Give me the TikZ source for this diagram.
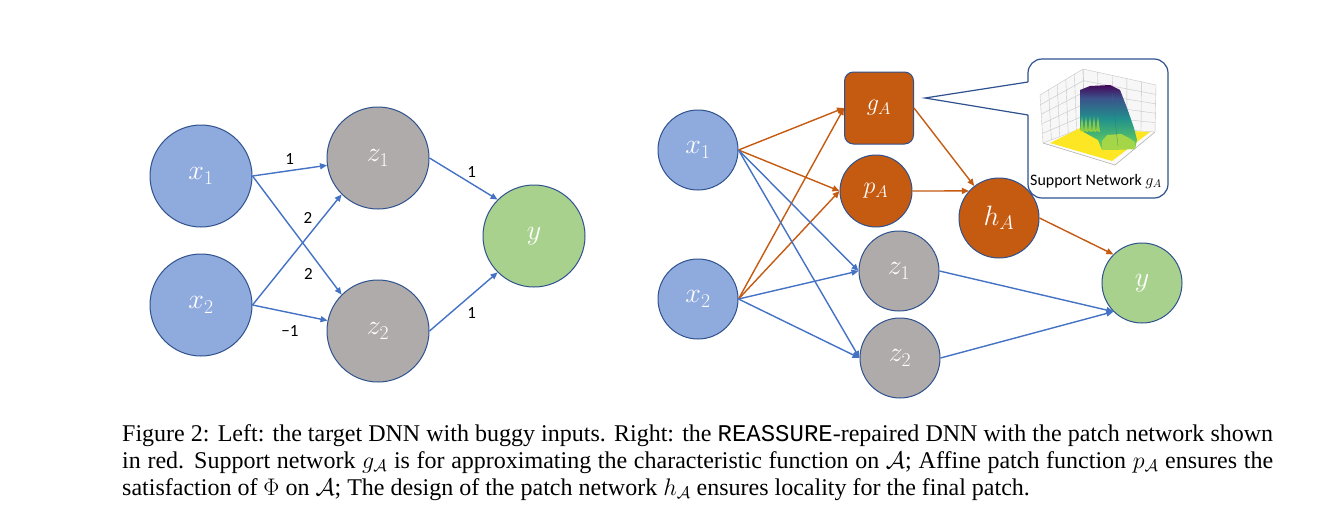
\RequirePackage{fix-cm}
\documentclass[tikz,border=0pt]{standalone}
\usepackage{fontspec}
\setmainfont{Liberation Serif}
\setmonofont{Liberation Mono}
\newfontfamily\calibri{Carlito}
\usetikzlibrary{calc,arrows.meta}

\definecolor{inblue}{HTML}{8FAADC}
\definecolor{hidgrey}{HTML}{AFABAB}
\definecolor{outgreen}{HTML}{A9D18E}
\definecolor{patchred}{HTML}{C55A11}
\definecolor{rimblue}{HTML}{2F528F}
\definecolor{wireblue}{HTML}{4472C4}
\definecolor{vira}{HTML}{440154}
\definecolor{virb}{HTML}{3B528B}
\definecolor{virc}{HTML}{21918C}
\definecolor{vird}{HTML}{5EC962}
\definecolor{vire}{HTML}{FDE725}
\definecolor{virlime}{HTML}{B5DE2B}
\pgfdeclareverticalshading{viridisfade}{100bp}{color(0bp)=(virlime); color(8bp)=(virlime); color(30bp)=(vird); color(49bp)=(virc); color(65bp)=(virb); color(76bp)=(vira); color(100bp)=(vira)}

\begin{document}
\begin{tikzpicture}[x=1pt,y=-1pt]
\tikzset{neuron/.style={circle,draw=rimblue,line width=1pt,text=white,inner sep=0pt,font=\fontsize{28}{30}\selectfont},
  bigneuron/.style={neuron,minimum size=102pt},
  smallneuron/.style={neuron,minimum size=80pt},
  wire/.style={wireblue,line width=1.4pt,-{Triangle[length=7pt,width=6pt]}},
  patchwire/.style={wire,patchred},
  weight/.style={text=black,font=\calibri\fontsize{17}{18}\selectfont,inner sep=2pt},
  callout/.style={rimblue,line width=1.2pt},
  pane/.style={gray!45,line width=0.4pt}};

\pgfmathsetmacro{\captionwd}{1151};

\fill[white] (0,0) rectangle (1329,528);
\useasboundingbox (0,0) rectangle (1329,528);

% left: the target DNN
\node[bigneuron,fill=inblue] (lx1) at (201,176) {$x_1$};
\node[bigneuron,fill=inblue] (lx2) at (201,305) {$x_2$};
\node[bigneuron,fill=hidgrey] (lz1) at (378,158) {$z_1$};
\node[bigneuron,fill=hidgrey] (lz2) at (378,331) {$z_2$};
\node[bigneuron,fill=outgreen] (ly) at (534,236) {$y$};

\draw[wire] (lx1.east) -- (lz1) node[weight,midway,above=3pt] (w11) {1};
\draw[wire] (lx1.east) -- (lz2.135) node[weight,pos=0.83,left=11pt] (w12) {2};
\draw[wire] (lx2.east) -- (lz1.225) node[weight,pos=0.79,left=8pt] (w21) {2};
\draw[wire] (lx2.east) -- (lz2) node[weight,midway,below=10pt] (w22) {−1};
\draw[wire] (lz1.east) -- (ly.135) node[weight,pos=0.62,above=4pt] (wz1) {1};
\draw[wire] (lz2.east) -- (ly.225) node[weight,pos=0.62,below=10pt] (wz2) {1};

% right: the repaired DNN
\node[smallneuron,fill=inblue] (rx1) at (698,150) {$x_1$};
\node[smallneuron,fill=inblue] (rx2) at (698,299) {$x_2$};
\node[rectangle,rounded corners=9pt,draw=rimblue,line width=1pt,fill=patchred,text=white,
  minimum width=69pt,minimum height=72pt,font=\fontsize{24}{26}\selectfont] (gA) at (879,108) {$g_A$};
\node[neuron,fill=patchred,minimum size=72pt,font=\fontsize{24}{26}\selectfont] (pA) at (876,191) {$p_A$};
\node[smallneuron,fill=patchred] (hA) at (999,218) {$h_A$};
\node[smallneuron,fill=hidgrey] (rz1) at (899,271) {$z_1$};
\node[smallneuron,fill=hidgrey] (rz2) at (900,358) {$z_2$};
\node[smallneuron,fill=outgreen] (ry) at (1142,283) {$y$};

\draw[patchwire] (rx1.east) -- (gA.west);
\draw[patchwire] (rx2.east) -- (gA.west);
\draw[patchwire] (rx1.east) -- (pA.west);
\draw[patchwire] (rx2.east) -- (pA.west);
\draw[wire] (rx1.east) -- (rz1.west);
\draw[wire] (rx1.east) -- (rz2.west);
\draw[wire] (rx2.east) -- (rz1.west);
\draw[wire] (rx2.east) -- (rz2.west);
\draw[patchwire] (gA.east) -- (hA);
\draw[patchwire] (pA.east) -- (hA.138);
\draw[patchwire] (hA.east) -- (ry.135);
\draw[wire] (rz1.east) -- (ry.225);
\draw[wire] (rz2.east) -- (ry.225);

% callout with the support network plot
\draw[callout,fill=white,rounded corners=14pt] (1028,59) rectangle (1168,198);
\fill[white] (1029.5,82) -- (925,98) -- (1029.5,115) -- cycle;
\draw[callout] (1028,82) -- (925,98) -- (1028,115);

\coordinate (LT) at (1040,95);
\coordinate (BT) at (1083,69);
\coordinate (RT) at (1156,85);
\coordinate (LB) at (1043,143);
\coordinate (BB) at (1085,127);
\coordinate (RB) at (1155,132);
\coordinate (FF) at (1115,165);

\fill[gray!6] (LT) -- (BT) -- (BB) -- (LB) -- cycle;
\fill[gray!6] (BT) -- (RT) -- (RB) -- (BB) -- cycle;
\fill[gray!3] (LB) -- (BB) -- (RB) -- (FF) -- cycle;
\foreach \t in {0,0.2,0.4,0.6,0.8,1} {
  \draw[pane] ($(LT)!\t!(BT)$) -- ($(LB)!\t!(BB)$);
  \draw[pane] ($(LT)!\t!(LB)$) -- ($(BT)!\t!(BB)$);
  \draw[pane] ($(BT)!\t!(RT)$) -- ($(BB)!\t!(RB)$);
  \draw[pane] ($(BT)!\t!(BB)$) -- ($(RT)!\t!(RB)$);
}
\draw[gray!60,line width=0.6pt] (LB) -- (FF) -- (RB);

\fill[vire] (1050,143) -- (1080,128) -- (1150,132) -- (1112,161) -- cycle;
\shade[shading=viridisfade] (1080,90) -- (1090,86) -- (1110,85) -- (1120,90) -- (1127,108) -- (1134,128)
  -- (1137,140) -- (1135,149) -- (1102,150) -- (1098,140) -- (1080,130) -- cycle;
\foreach \s in {0,4,...,16}
  \fill[virlime,opacity=0.7] (1080+\s,131) -- (1082+\s,116) -- (1084+\s,132) -- cycle;
\fill[vird!55!vire] (1102,141) -- (1107,135) -- (1121,134) -- (1129,138) -- (1135,142) -- (1135,149) -- (1102,150) -- cycle;
\draw[virb!60!virc,line width=0.4pt,opacity=0.6] (1112,93) -- (1118,146);

\node[font=\calibri\fontsize{16}{18}\selectfont,anchor=base,inner sep=0pt] (notelabel) at (1096,185) {Support Network $g_A$};

% caption
\node[anchor=base west,inner sep=0pt,font=\fontsize{24}{27}\selectfont] (cap1) at (122,441)
  {\makebox[\captionwd pt][s]{Figure 2: Left: the target DNN with buggy inputs. Right: the \texttt{REASSURE}-repaired DNN with the patch network shown}};
\node[anchor=base west,inner sep=0pt,font=\fontsize{24}{27}\selectfont] (cap2) at (122,468)
  {\makebox[\captionwd pt][s]{in red. Support network $g_{\mathcal{A}}$ is for approximating the characteristic function on $\mathcal{A}$; Affine patch function $p_{\mathcal{A}}$ ensures the}};
\node[anchor=base west,inner sep=0pt,font=\fontsize{24}{27}\selectfont] (cap3) at (122,495)
  {satisfaction of $\Phi$ on $\mathcal{A}$; The design of the patch network $h_{\mathcal{A}}$ ensures locality for the final patch.};
\end{tikzpicture}
\end{document}
